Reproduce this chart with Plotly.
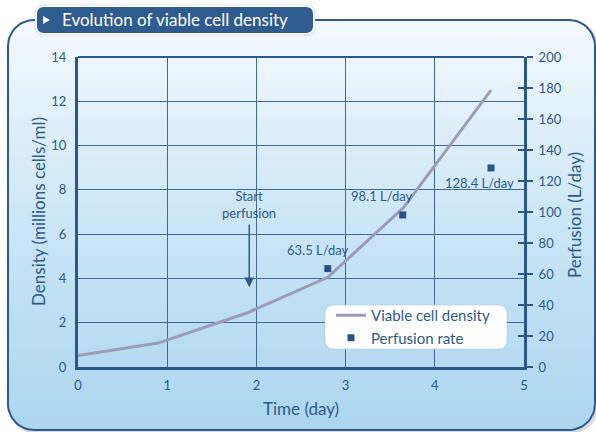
import numpy as np
import plotly.graph_objects as go

# ---- data ----
time_days = [0.0, 0.9, 1.9, 2.8, 3.65, 4.63]
density = [0.52, 1.08, 2.45, 4.05, 7.2, 12.5]

perf_days = [2.8, 3.64, 4.63]
perf_rate = [63.5, 98.1, 128.4]
perf_labels = ["63.5 L/day", "98.1 L/day", "128.4 L/day"]

x_ticks = [0, 1, 2, 3, 4, 5]
y_left_ticks = [0, 2, 4, 6, 8, 10, 12, 14]
y_right_ticks = [0, 20, 40, 60, 80, 100, 120, 140, 160, 180, 200]

W, H = 596, 432
DARK = "#2e5a8c"
AXIS = "#2b588b"
GRID = "#41699a"
FONT = "Lato"


def rounded_rect(x0, y0, x1, y1, r, n=14):
    """Closed outline of a rounded rectangle in pixel coords (y down)."""
    xs, ys = [], []
    corners = [
        (x1 - r, y0 + r, -np.pi / 2, 0),
        (x1 - r, y1 - r, 0, np.pi / 2),
        (x0 + r, y1 - r, np.pi / 2, np.pi),
        (x0 + r, y0 + r, np.pi, 1.5 * np.pi),
    ]
    for cx, cy, a0, a1 in corners:
        t = np.linspace(a0, a1, n)
        xs.extend(cx + r * np.cos(t))
        ys.extend(cy + r * np.sin(t))
    xs.append(xs[0])
    ys.append(ys[0])
    return np.array(xs), H - np.array(ys)


def rr_path(x0, y0, x1, y1, r):
    """SVG path of a rounded rectangle in paper fractions."""
    def P(x, y):
        return f"{x / W:.5f},{1 - y / H:.5f}"
    return (f"M {P(x0 + r, y0)} L {P(x1 - r, y0)} Q {P(x1, y0)} {P(x1, y0 + r)} "
            f"L {P(x1, y1 - r)} Q {P(x1, y1)} {P(x1 - r, y1)} L {P(x0 + r, y1)} "
            f"Q {P(x0, y1)} {P(x0, y1 - r)} L {P(x0, y0 + r)} Q {P(x0, y0)} {P(x0 + r, y0)} Z")


def px(x):
    return x / W


def py(y):
    return 1 - y / H


fig = go.Figure()

# panel shadow + gradient panel (full-page subplot drawn first)
sx, sy = rounded_rect(10, 22, 597, 432, 26)
fig.add_trace(go.Scatter(x=sx, y=sy, mode="lines", line=dict(color="rgba(90,110,130,0.25)", width=3),
                         hoverinfo="skip", showlegend=False, xaxis="x", yaxis="y"))
fx, fy = rounded_rect(8, 20, 595, 430, 26)
fig.add_trace(go.Scatter(
    x=fx, y=fy, mode="lines", fill="toself",
    fillgradient=dict(type="vertical", start=2, stop=412,
                      colorscale=[[0, "#abd6ef"], [0.5, "#cbe6f6"], [1, "#f4f9fd"]]),
    line=dict(color=DARK, width=2), hoverinfo="skip", showlegend=False,
    xaxis="x", yaxis="y"))

# chart traces
fig.add_trace(go.Scatter(
    x=time_days, y=density, mode="lines", name="Viable cell density",
    line=dict(color="#9c9cba", width=3), xaxis="x2", yaxis="y2"))
fig.add_trace(go.Scatter(
    x=perf_days, y=perf_rate, mode="markers", name="Perfusion rate",
    marker=dict(symbol="square", size=7, color="#2a5386"), xaxis="x2", yaxis="y3"))
# carrier for the inside tick marks of the right axis
fig.add_trace(go.Scatter(x=[None], y=[None], xaxis="x2", yaxis="y4",
                         showlegend=False, hoverinfo="skip"))

x0p, x1p = px(78), px(524)
y0p, y1p = py(367), py(57)
tickfont = dict(size=13, color=DARK, family=FONT)

fig.update_layout(
    width=W, height=H, margin=dict(l=0, r=0, t=0, b=0, pad=0, autoexpand=False),
    paper_bgcolor="white", plot_bgcolor="rgba(0,0,0,0)",
    font=dict(family=FONT, color=DARK),
    xaxis=dict(domain=[0, 1], range=[0, W], visible=False, fixedrange=True),
    yaxis=dict(domain=[0, 1], range=[0, H], visible=False, fixedrange=True),
    xaxis2=dict(domain=[x0p, x1p], range=[0, 5], anchor="y2", tickvals=x_ticks,
                showgrid=True, gridcolor=GRID, gridwidth=1, zeroline=False,
                showline=True, linecolor=AXIS, linewidth=3, ticks="",
                ticklabelstandoff=4, tickfont=tickfont),
    yaxis2=dict(domain=[y0p, y1p], range=[0, 14], anchor="x2", tickvals=y_left_ticks,
                showgrid=True, gridcolor=GRID, gridwidth=1, zeroline=False,
                showline=True, linecolor=AXIS, linewidth=3, ticks="",
                ticklabelstandoff=6, tickfont=tickfont),
    yaxis3=dict(range=[0, 200], overlaying="y2", side="right", anchor="x2",
                tickvals=y_right_ticks, showgrid=False, zeroline=False,
                showline=True, linecolor=AXIS, linewidth=3,
                ticks="outside", ticklen=6, tickwidth=2, tickcolor=AXIS,
                ticklabelstandoff=3, tickfont=tickfont),
    yaxis4=dict(range=[0, 200], overlaying="y2", side="right", anchor="x2",
                tickvals=y_right_ticks, showgrid=False, zeroline=False,
                showticklabels=False, ticks="inside", ticklen=6, tickwidth=2,
                tickcolor=AXIS),
    legend=dict(x=px(331), y=py(299), xanchor="left", yanchor="top",
                bgcolor="rgba(0,0,0,0)", font=dict(size=15, color=DARK),
                tracegroupgap=0, itemwidth=30),
    showlegend=True,
)

shapes = []
# top edge of plot frame
shapes.append(dict(type="line", xref="paper", yref="paper", x0=x0p, x1=x1p, y0=y1p, y1=y1p,
                   line=dict(color=AXIS, width=2), layer="above"))
# legend box
shapes.append(dict(type="path", xref="paper", yref="paper", path=rr_path(325, 305, 507, 349, 9),
                   fillcolor="white", line=dict(color="rgba(180,200,215,0.6)", width=1), layer="above"))
# title tab
shapes.append(dict(type="path", xref="paper", yref="paper", path=rr_path(35, 5, 315, 35, 8),
                   fillcolor="white", line=dict(color="rgba(150,165,180,0.35)", width=1), layer="above"))
shapes.append(dict(type="path", xref="paper", yref="paper", path=rr_path(37, 7, 313, 33, 7),
                   fillcolor="#2f5b8e", line=dict(width=0), layer="above"))
# tab triangle
shapes.append(dict(type="path", xref="paper", yref="paper",
                   path=f"M {px(43):.5f},{py(16):.5f} L {px(50):.5f},{py(20):.5f} L {px(43):.5f},{py(24):.5f} Z",
                   fillcolor="white", line=dict(width=0), layer="above"))
fig.update_layout(shapes=shapes)

ann = []
ann.append(dict(xref="paper", yref="paper", x=px(60), y=py(20), xanchor="left", yanchor="middle",
                text="Evolution of viable cell density", showarrow=False,
                font=dict(size=17, color="white", family=FONT)))
# axis titles
ann.append(dict(xref="paper", yref="paper", x=px(39), y=py(212), xanchor="center", yanchor="middle",
                text="Density (millions cells/ml)", textangle=-90, showarrow=False,
                font=dict(size=17, color=DARK)))
ann.append(dict(xref="paper", yref="paper", x=px(575), y=py(215), xanchor="center", yanchor="middle",
                text="Perfusion (L/day)", textangle=-90, showarrow=False,
                font=dict(size=17, color=DARK)))
ann.append(dict(xref="paper", yref="paper", x=px(301), y=py(408), xanchor="center", yanchor="middle",
                text="Time (day)", showarrow=False, font=dict(size=17, color=DARK)))
# perfusion labels
shifts = [(-10, 19), (-21, 19), (-12, -15)]
for d, r, lab, (dx, dy) in zip(perf_days, perf_rate, perf_labels, shifts):
    ann.append(dict(xref="x2", yref="y3", x=d, y=r, text=lab, showarrow=False,
                    xanchor="center", yanchor="middle",
                    xshift=dx, yshift=dy, font=dict(size=13, color=DARK)))
# start perfusion marker
ann.append(dict(xref="x2", yref="y2", x=1.92, y=7.35, text="Start<br>perfusion", showarrow=False,
                xanchor="center", yanchor="middle",
                font=dict(size=13, color=DARK), align="center"))
ann.append(dict(xref="x2", yref="y2", x=1.92, y=3.6, ax=1.92, ay=6.5, axref="x2", ayref="y2",
                text="", showarrow=True, arrowhead=2, arrowsize=1.3, arrowwidth=1.5, arrowcolor=DARK))
fig.update_layout(annotations=ann)

fig.write_html("out.html")
